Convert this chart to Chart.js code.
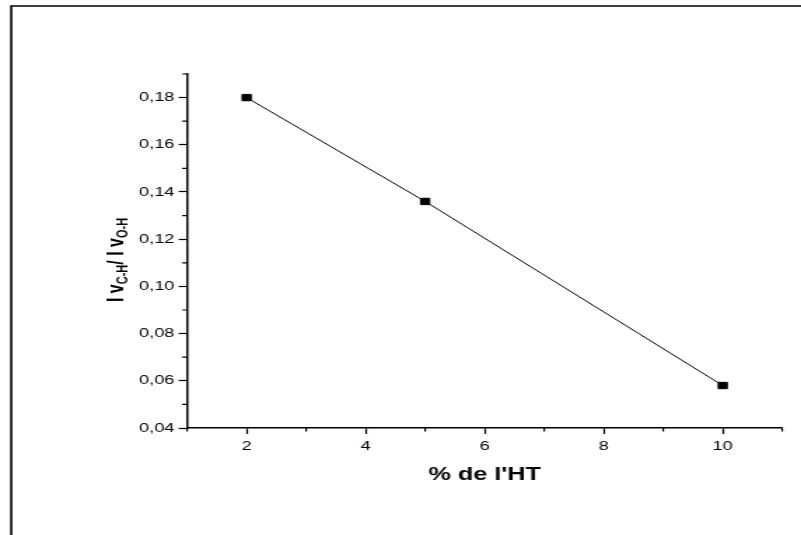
<!DOCTYPE html>
<html lang="fr">
<head>
  <meta charset="UTF-8">
  <title>I vC-H / I vO-H en fonction du % de l'HT</title>
  <script src="https://cdn.jsdelivr.net/npm/chart.js"></script>
  <style>
    body { margin: 0; background: #fff; }
    #chart { display: block; }
  </style>
</head>
<body>
  <!-- the original figure is stretched sideways, so the canvas is drawn narrow and widened by its inline style -->
  <canvas id="chart" width="572" height="535" style="width:801px;height:535px"></canvas>

  <script>
    // data
    const htPercent = [2, 5, 10];
    const ratioValues = [0.18, 0.136, 0.058];

    // axes
    const xMajorTicks = [2, 4, 6, 8, 10];
    const xMinorTicks = [1, 3, 5, 7, 9, 11];
    const yMajorTicks = [0.04, 0.06, 0.08, 0.10, 0.12, 0.14, 0.16, 0.18];
    const yMinorTicks = [0.05, 0.07, 0.09, 0.11, 0.13, 0.15, 0.17, 0.19];

    const FONT = "'Liberation Sans', Arial, sans-serif";

    // white background + frame on the left and top
    const framePlugin = {
      id: 'frame',
      beforeDraw(chart) {
        const ctx = chart.ctx;
        ctx.save();
        ctx.fillStyle = '#fff';
        ctx.fillRect(0, 0, chart.width, chart.height);
        ctx.strokeStyle = '#000';
        ctx.lineWidth = 1.6;
        ctx.beginPath();
        ctx.moveTo(8, chart.height);
        ctx.lineTo(8, 6);
        ctx.lineTo(chart.width, 6);
        ctx.stroke();
        ctx.restore();
      }
    };

    // minor tick marks + axis titles
    const axisExtras = {
      id: 'axisExtras',
      afterDraw(chart) {
        const ctx = chart.ctx;
        const { x, y } = chart.scales;
        const area = chart.chartArea;
        ctx.save();
        ctx.strokeStyle = '#000';
        ctx.lineWidth = 1.2;
        ctx.beginPath();
        yMinorTicks.forEach(v => {
          const py = y.getPixelForValue(v);
          ctx.moveTo(area.left - 3.5, py);
          ctx.lineTo(area.left, py);
        });
        xMinorTicks.forEach(v => {
          const px = x.getPixelForValue(v);
          ctx.moveTo(px, area.bottom);
          ctx.lineTo(px, area.bottom + 3.5);
        });
        ctx.stroke();

        // x title
        ctx.fillStyle = '#000';
        ctx.font = 'bold 18px ' + FONT;
        ctx.textAlign = 'center';
        ctx.textBaseline = 'alphabetic';
        ctx.fillText("% de l'HT", (area.left + area.right) / 2, 480);

        // y title with subscripts: I v(C-H) / I v(O-H)
        const parts = [
          { t: 'I v', sub: false },
          { t: 'C-H', sub: true },
          { t: '/ I v', sub: false },
          { t: 'O-H', sub: true }
        ];
        const mainFont = 'bold 16px ' + FONT;
        const subFont = 'bold 11px ' + FONT;
        let total = 0;
        parts.forEach(p => {
          ctx.font = p.sub ? subFont : mainFont;
          p.w = ctx.measureText(p.t).width;
          total += p.w;
        });
        ctx.translate(88, 260);
        ctx.rotate(-Math.PI / 2);
        ctx.textAlign = 'left';
        let cx = -total / 2;
        parts.forEach(p => {
          ctx.font = p.sub ? subFont : mainFont;
          ctx.fillText(p.t, cx, p.sub ? 3 : 0);
          cx += p.w;
        });
        ctx.restore();
      }
    };

    new Chart(document.getElementById('chart'), {
      type: 'line',
      data: {
        datasets: [{
          data: htPercent.map((v, i) => ({ x: v, y: ratioValues[i] })),
          borderColor: '#000',
          borderWidth: 1,
          backgroundColor: '#000',
          pointStyle: 'rect',
          pointRadius: 4.5,
          pointBorderWidth: 1,
          tension: 0
        }]
      },
      options: {
        responsive: false,
        animation: false,
        devicePixelRatio: 1,
        layout: { padding: { left: 0, top: 74, right: 13.4, bottom: 0 } },
        plugins: { legend: { display: false }, tooltip: { enabled: false } },
        scales: {
          x: {
            type: 'linear',
            min: 1,
            max: 11,
            afterFit: s => { s.height = 107; },
            afterBuildTicks: s => { s.ticks = xMajorTicks.map(v => ({ value: v })); },
            border: { display: true, color: '#000', width: 1.5 },
            grid: { display: true, drawOnChartArea: false, drawTicks: true, tickLength: 6, tickWidth: 1.2, tickColor: '#000' },
            ticks: { color: '#000', font: { family: FONT, size: 13 }, padding: 5, maxRotation: 0, callback: v => String(v) }
          },
          y: {
            min: 0.04,
            max: 0.19,
            afterFit: s => { s.width = 133.6; },
            afterBuildTicks: s => { s.ticks = yMajorTicks.map(v => ({ value: v })); },
            border: { display: true, color: '#000', width: 1.5 },
            grid: { display: true, drawOnChartArea: false, drawTicks: true, tickLength: 6, tickWidth: 1.2, tickColor: '#000' },
            ticks: { color: '#000', font: { family: FONT, size: 13 }, padding: 3, callback: v => v.toFixed(2).replace('.', ',') }
          }
        }
      },
      plugins: [framePlugin, axisExtras]
    });
  </script>
</body>
</html>
